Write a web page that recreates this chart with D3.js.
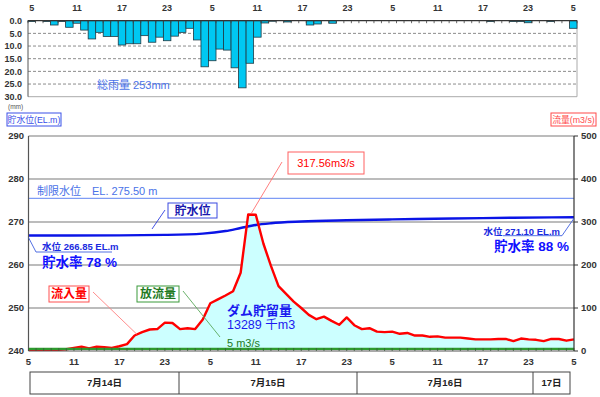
<!DOCTYPE html>
<html>
<head>
<meta charset="utf-8">
<script src="https://cdn.jsdelivr.net/npm/d3@7/dist/d3.min.js"></script>
<style>
  body { margin: 0; background: #fff; }
  text { font-family: "Liberation Sans", "Noto Sans CJK JP", sans-serif; }
</style>
</head>
<body>
<div id="chart"></div>
<script>
// hours counted from 7/14 05:00, one value per hour (0..72)
const hourTicks = [0, 6, 12, 18, 24, 30, 36, 42, 48, 54, 60, 66, 72];
const hourTickLabels = ["5", "11", "17", "23", "5", "11", "17", "23", "5", "11", "17", "23", "5"];

// hourly rainfall (mm)
const rainfall = [
  0.3, 0, 0.3, 1.7, 0.3, 2.6, 1.0, 3.7, 7.2, 4.6, 6.2, 6.2, 9.6, 9.1, 9.1, 5.9, 8.5, 6.5, 7.9,
  6.1, 4.6, 3.0, 7.6, 18.2, 15.8, 11.2, 11.6, 18.6, 26.5, 16.8, 6.5, 0.9, 0.2, 0, 0.5, 0, 0,
  1.7, 1.3, 0, 1.0, 0, 0, 0, 0, 0, 0, 0, 0, 0, 0, 0, 0, 0, 0, 0, 0, 0, 0, 0, 0,
  0.3, 0, 0, 0.3, 0.3, 0.8, 0, 0, 0.3, 0, 0, 3.0
];
const rainTicks = [0, 5, 10, 15, 20, 25, 30];

// hourly inflow (m3/s)
const inflow = [
  3, 3, 3, 3, 3, 4, 7, 10, 6, 10, 9, 7, 11, 16, 36, 44, 50, 51, 66, 65, 51, 53, 51, 73,
  111, 120, 129, 139, 182, 317.56, 317, 250, 198, 151, 133, 115, 100, 84, 74, 80, 70, 61, 78, 60,
  51, 53, 45, 44, 45, 40, 42, 36, 36, 33, 34, 31, 31, 31, 29, 27, 27, 27, 28, 28, 23, 29,
  27, 26, 23, 28, 28, 24, 27
];
// outflow held at 5 m3/s for the whole period
const outflowHours = [0, 72];
const outflow = [5, 5];

// reservoir level (EL.m)
const levelHours = [0, 12, 18, 23, 26, 28, 30, 32, 36, 42, 48, 56, 64, 72];
const level = [266.85, 266.9, 267.0, 267.3, 267.9, 268.6, 269.3, 269.7, 270.1, 270.4, 270.6, 270.8, 271.0, 271.1];
const limitLevel = 275.5;
const levelTicks = [240, 250, 260, 270, 280, 290];
const flowTicks = [0, 100, 200, 300, 400, 500];

const days = ["7月14日", "7月15日", "7月16日", "17日"];
const dayBounds = [0, 19, 43, 67, 72];

const svg = d3.select("#chart").append("svg")
  .attr("width", 600)
  .attr("height", 397);

// ---------- rainfall panel ----------
const xBand = d3.scaleBand().domain(d3.range(rainfall.length)).range([28, 577]).padding(0);
const yRain = d3.scaleLinear().domain([0, 30]).range([20.7, 96.7]);

const rain = svg.append("g");
rain.selectAll(".grid").data(rainTicks.filter(d => d > 0 && d < 30)).join("line")
  .attr("x1", 28).attr("x2", 577)
  .attr("y1", d => yRain(d)).attr("y2", d => yRain(d))
  .attr("stroke", "#8c8c8c").attr("stroke-dasharray", "3,2").attr("stroke-width", 1);
rain.append("line").attr("x1", 28).attr("x2", 577).attr("y1", yRain(30)).attr("y2", yRain(30))
  .attr("stroke", "#aaa");
rain.append("line").attr("x1", 577).attr("x2", 577).attr("y1", yRain(0)).attr("y2", yRain(30))
  .attr("stroke", "#aaa");
rain.append("line").attr("x1", 28).attr("x2", 28).attr("y1", yRain(0)).attr("y2", yRain(30))
  .attr("stroke", "#555");

rain.selectAll("rect").data(rainfall).join("rect")
  .attr("x", (d, i) => xBand(i))
  .attr("y", yRain(0))
  .attr("width", xBand.bandwidth())
  .attr("height", d => yRain(d) - yRain(0))
  .attr("fill", "#00c8f2")
  .attr("stroke", "#1f3a44")
  .attr("stroke-width", d => d > 0 ? 0.8 : 0);

rain.append("line").attr("x1", 28).attr("x2", 577).attr("y1", yRain(0)).attr("y2", yRain(0))
  .attr("stroke", "#333").attr("stroke-width", 1.2);
rain.selectAll(".tk").data(d3.range(rainfall.length + 1)).join("line")
  .attr("x1", i => 28 + i * xBand.step()).attr("x2", i => 28 + i * xBand.step())
  .attr("y1", yRain(0)).attr("y2", yRain(0) + 2.5)
  .attr("stroke", "#444").attr("stroke-width", 0.8);

rain.selectAll(".xl").data(hourTicks).join("text")
  .attr("x", (d) => xBand(d) + xBand.bandwidth() / 2)
  .attr("y", 8).attr("dy", "0.35em")
  .attr("text-anchor", "middle").attr("font-size", 9).attr("font-weight", "bold").attr("fill", "#333")
  .text((d, i) => hourTickLabels[i]);
rain.selectAll(".yl").data(rainTicks).join("text")
  .attr("x", 22).attr("y", d => yRain(d)).attr("dy", "0.35em")
  .attr("text-anchor", "end").attr("font-size", 9).attr("font-weight", "bold").attr("fill", "#333")
  .text(d => d.toFixed(1));
rain.append("text").attr("x", 97).attr("y", 85).attr("dy", "0.35em")
  .attr("font-size", 11).attr("fill", "#4a72e8").text("総雨量 253mm");

// ---------- main panel ----------
const x = d3.scaleLinear().domain([0, 72]).range([28.5, 574]);
const yLevel = d3.scaleLinear().domain([240, 290]).range([351, 136]);
const yFlow = d3.scaleLinear().domain([0, 500]).range([351, 136]);

const main = svg.append("g");
main.selectAll(".grid").data(levelTicks.filter(d => d > 240)).join("line")
  .attr("x1", x(0)).attr("x2", x(72))
  .attr("y1", d => yLevel(d)).attr("y2", d => yLevel(d))
  .attr("stroke", "#7a7a7a").attr("stroke-width", 1.2);

// limit level
main.append("line").attr("x1", x(0)).attr("x2", x(72))
  .attr("y1", yLevel(limitLevel)).attr("y2", yLevel(limitLevel))
  .attr("stroke", "#7f9cf5").attr("stroke-width", 1.2);
main.append("text").attr("x", 37).attr("y", yLevel(limitLevel) - 7).attr("dy", "0.35em")
  .attr("font-size", 11).attr("fill", "#4a72e8").attr("xml:space", "preserve")
  .text("制限水位　EL. 275.50 m");

// stored volume area
const area = d3.area()
  .x((d, i) => x(i))
  .y0(yFlow(outflow[0]))
  .y1(d => yFlow(d));
main.append("path").datum(inflow).attr("d", area).attr("fill", "#ccffff");

// level line
main.append("path")
  .datum(levelHours.map((h, i) => [h, level[i]]))
  .attr("d", d3.line().x(d => x(d[0])).y(d => yLevel(d[1])).curve(d3.curveMonotoneX))
  .attr("fill", "none").attr("stroke", "#0a14e6").attr("stroke-width", 2.4);

// inflow line
main.append("path").datum(inflow)
  .attr("d", d3.line().x((d, i) => x(i)).y(d => yFlow(d)))
  .attr("fill", "none").attr("stroke", "#ff0000").attr("stroke-width", 2.4)
  .attr("stroke-linejoin", "round");

// outflow line
main.append("path")
  .datum(outflowHours.map((h, i) => [h, outflow[i]]))
  .attr("d", d3.line().x(d => x(d[0])).y(d => yFlow(d[1])))
  .attr("fill", "none").attr("stroke", "#2e9a2e").attr("stroke-width", 2.4);

// axes frame
main.append("line").attr("x1", x(0)).attr("x2", x(72)).attr("y1", 351).attr("y2", 351)
  .attr("stroke", "#555").attr("stroke-width", 1);
main.append("line").attr("x1", x(0)).attr("x2", x(0)).attr("y1", 136).attr("y2", 351)
  .attr("stroke", "#555").attr("stroke-width", 1.2);
main.append("line").attr("x1", x(72)).attr("x2", x(72)).attr("y1", 136).attr("y2", 351)
  .attr("stroke", "#333").attr("stroke-width", 1.2);
main.selectAll(".htk").data(d3.range(73)).join("line")
  .attr("x1", d => x(d)).attr("x2", d => x(d))
  .attr("y1", 351).attr("y2", 348)
  .attr("stroke", "#3b5a3b").attr("stroke-width", 0.8);
main.selectAll(".rtk").data(flowTicks).join("line")
  .attr("x1", x(72)).attr("x2", x(72) + 4)
  .attr("y1", d => yFlow(d)).attr("y2", d => yFlow(d))
  .attr("stroke", "#333");

main.selectAll(".ly").data(levelTicks).join("text")
  .attr("x", 24).attr("y", d => yLevel(d)).attr("dy", "0.35em")
  .attr("text-anchor", "end").attr("font-size", 9.5).attr("font-weight", "bold").attr("fill", "#333")
  .text(d => d);
main.selectAll(".ry").data(flowTicks).join("text")
  .attr("x", 581).attr("y", d => yFlow(d)).attr("dy", "0.35em")
  .attr("font-size", 9.5).attr("font-weight", "bold").attr("fill", "#333")
  .text(d => d);
main.selectAll(".xl").data(hourTicks).join("text")
  .attr("x", d => x(d)).attr("y", 362).attr("dy", "0.35em")
  .attr("text-anchor", "middle").attr("font-size", 9.5).attr("font-weight", "bold").attr("fill", "#333")
  .text((d, i) => hourTickLabels[i]);

// axis titles
svg.append("text").attr("x", 8).attr("y", 107).attr("dy", "0.35em")
  .attr("font-size", 6.5).attr("fill", "#555").text("(mm)");
function boxLabel(x0, y0, w, h, txt, color, size, weight, textColor) {
  svg.append("rect").attr("x", x0).attr("y", y0).attr("width", w).attr("height", h)
    .attr("fill", "#fff").attr("stroke", color).attr("stroke-width", 1);
  svg.append("text").attr("x", x0 + w / 2).attr("y", y0 + h / 2).attr("dy", "0.36em")
    .attr("text-anchor", "middle").attr("font-size", size).attr("font-weight", weight)
    .attr("fill", textColor || color).text(txt);
}
boxLabel(7, 113, 54, 13, "貯水位(EL.m)", "#3a50e8", 8.8, "normal");
boxLabel(551, 113, 45, 13, "流量(m3/s)", "#ff4a4a", 8.8, "normal");

// ---------- annotations ----------
function leader(pts, color) {
  svg.append("path").attr("d", d3.line()(pts))
    .attr("fill", "none").attr("stroke", color).attr("stroke-width", 0.9);
}
// peak
leader([[282, 162], [x(29.4), yFlow(317.56) - 1]], "#ff7070");
boxLabel(288, 152, 76, 22, "317.56m3/s", "#ff6060", 11, "normal", "#ff0000");

// level label
leader([[165, 210], [152, 229]], "#3040e0");
boxLabel(168, 203, 49, 15, "貯水位", "#3a4ae0", 12, "bold", "#1a1ab0");

// start level
leader([[x(0), yLevel(level[0]) + 2], [36, 252], [112, 252]], "#4060e0");
svg.append("text").attr("x", 42).attr("y", 246.5).attr("dy", "0.35em")
  .attr("font-size", 9.5).attr("font-weight", "bold").attr("fill", "#1a2ae0").text("水位 266.85 EL.m");
svg.append("text").attr("x", 42).attr("y", 262).attr("dy", "0.35em")
  .attr("font-size", 13.5).attr("font-weight", "bold").attr("fill", "#1010ff").text("貯水率 78 %");

// end level
leader([[x(72), yLevel(level[level.length - 1]) + 1], [562, 235.7], [503, 235.7]], "#4060e0");
svg.append("text").attr("x", 560).attr("y", 231.5).attr("dy", "0.35em").attr("text-anchor", "end")
  .attr("font-size", 9.5).attr("font-weight", "bold").attr("fill", "#1a2ae0").text("水位 271.10 EL.m");
svg.append("text").attr("x", 569).attr("y", 246.5).attr("dy", "0.35em").attr("text-anchor", "end")
  .attr("font-size", 13.5).attr("font-weight", "bold").attr("fill", "#1010ff").text("貯水率 88 %");

// inflow / outflow labels
leader([[93, 292], [x(14.3), yFlow(39)]], "#ff8080");
boxLabel(49, 286, 40, 16, "流入量", "#ff5050", 12, "bold", "#ff0000");
leader([[183, 291], [220, 337]], "#5aa85a");
boxLabel(137, 286, 42, 16, "放流量", "#3a9a3a", 12, "bold", "#1e7a1e");
svg.append("text").attr("x", 227).attr("y", 343).attr("dy", "0.35em")
  .attr("font-size", 11).attr("fill", "#1e7a1e").text("5 m3/s");

svg.append("text").attr("x", 227).attr("y", 310).attr("dy", "0.35em")
  .attr("font-size", 13).attr("font-weight", "bold").attr("fill", "#1a1af0").text("ダム貯留量");
svg.append("text").attr("x", 227).attr("y", 324.5).attr("dy", "0.35em")
  .attr("font-size", 12.5).attr("fill", "#1a1af0").text("13289 千m3");

// ---------- date table ----------
const xDay = d3.scaleLinear().domain(dayBounds).range([30, 179, 357, 533, 570]);
const table = svg.append("g");
table.append("rect").attr("x", xDay(0)).attr("y", 372)
  .attr("width", xDay(72) - xDay(0)).attr("height", 22)
  .attr("fill", "#fff").attr("stroke", "#444").attr("stroke-width", 1);
table.selectAll(".sep").data(dayBounds.slice(1, -1)).join("line")
  .attr("x1", d => xDay(d)).attr("x2", d => xDay(d))
  .attr("y1", 372).attr("y2", 394).attr("stroke", "#444");
table.selectAll("text").data(days).join("text")
  .attr("x", (d, i) => (xDay(dayBounds[i]) + xDay(dayBounds[i + 1])) / 2)
  .attr("y", 383).attr("dy", "0.35em").attr("text-anchor", "middle")
  .attr("font-size", 9.5).attr("font-weight", "bold").attr("fill", "#222")
  .text(d => d);
</script>
</body>
</html>
